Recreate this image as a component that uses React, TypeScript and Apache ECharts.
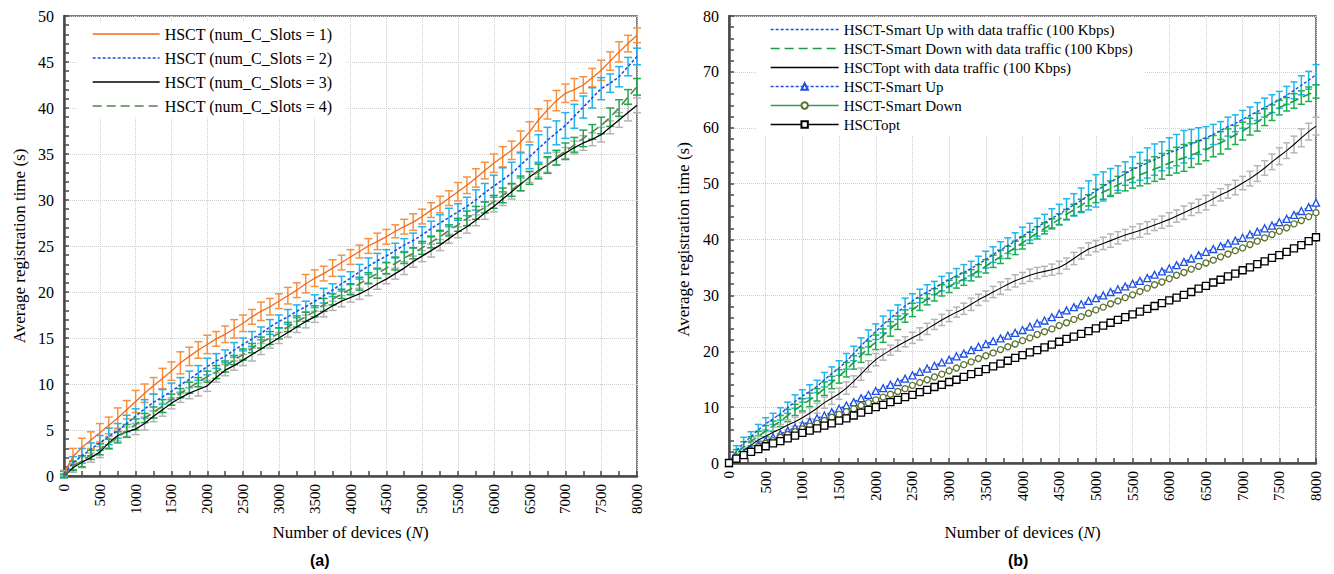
import React, { useEffect, useRef } from "react";
import * as echarts from "echarts";

// ---- sampling grids (number of devices N) ----
const leftStep = 125;
const rightStep = 100;
const leftDevices: number[] = Array.from({ length: 65 }, (_, i) => i * leftStep);
const rightDevices: number[] = Array.from({ length: 81 }, (_, i) => i * rightStep);

// ---- panel (a): HSCT with different numbers of contention slots ----
const slots1 = [
  0.3, 2.1, 3.1, 3.9, 4.7, 5.5, 6.3, 7.2,
  8.1, 9.0, 9.8, 10.6, 11.4, 12.3, 13.0, 13.7,
  14.3, 14.9, 15.4, 16.0, 16.6, 17.3, 17.9, 18.4,
  19.0, 19.6, 20.2, 20.9, 21.5, 22.0, 22.6, 23.2,
  23.8, 24.4, 25.0, 25.5, 26.0, 26.6, 27.1, 27.6,
  28.2, 28.9, 29.5, 30.2, 30.9, 31.6, 32.4, 33.2,
  34.0, 34.7, 35.4, 36.3, 37.4, 38.7, 39.8, 40.8,
  41.6, 42.0, 42.5, 43.3, 44.1, 45.1, 46.1, 47.0,
  47.9,
];
const slots2 = [
  0.2, 1.4, 2.2, 2.9, 3.6, 4.3, 4.9, 5.7,
  6.5, 7.3, 8.0, 8.6, 9.2, 9.9, 10.5, 11.2,
  11.9, 12.5, 13.0, 13.7, 14.3, 14.9, 15.5, 16.2,
  16.8, 17.3, 17.9, 18.4, 19.0, 19.6, 20.2, 20.9,
  21.5, 22.2, 22.8, 23.4, 23.9, 24.5, 25.1, 25.6,
  26.2, 26.9, 27.5, 28.1, 28.7, 29.3, 30.0, 30.8,
  31.5, 32.2, 32.9, 33.8, 34.7, 35.6, 36.5, 37.3,
  38.1, 39.1, 40.1, 41.1, 42.1, 42.7, 43.4, 44.5,
  45.6,
];
const slots3 = [
  0, 0.9, 1.5, 2.0, 2.6, 3.6, 4.4, 4.8,
  5.1, 5.7, 6.5, 7.2, 7.9, 8.5, 9.0, 9.4,
  9.8, 10.7, 11.5, 12.0, 12.6, 13.2, 13.8, 14.4,
  15.0, 15.6, 16.2, 16.8, 17.3, 17.9, 18.5, 19.0,
  19.4, 19.8, 20.3, 20.9, 21.4, 22.0, 22.6, 23.3,
  23.9, 24.5, 25.1, 25.8, 26.5, 27.1, 27.8, 28.6,
  29.3, 30.1, 30.9, 31.7, 32.5, 33.2, 33.8, 34.5,
  35.1, 35.7, 36.2, 36.6, 37.1, 37.9, 38.7, 39.5,
  40.3,
];
const slots4 = [
  0, 1.1, 1.6, 2.3, 2.9, 3.5, 4.2, 4.9,
  5.6, 6.3, 6.9, 7.6, 8.3, 9.0, 9.6, 10.2,
  10.8, 11.3, 11.9, 12.6, 13.2, 13.9, 14.5, 15.0,
  15.5, 16.2, 16.8, 17.3, 17.9, 18.6, 19.2, 19.8,
  20.3, 20.9, 21.5, 22.0, 22.6, 23.1, 23.7, 24.2,
  24.8, 25.4, 26.0, 26.7, 27.3, 28.0, 28.6, 29.2,
  29.8, 30.5, 31.1, 31.8, 32.4, 33.1, 33.8, 34.6,
  35.3, 36.0, 36.7, 37.4, 38.1, 39.0, 40.0, 41.2,
  42.3,
];
// half-length of the error bars (s)
const slots1Err = [
  0.3, 0.9, 1.0, 0.9, 1.0, 0.9, 1.1, 1.0,
  1.2, 1.0, 0.9, 1.1, 1.0, 1.2, 1.0, 0.9,
  1.0, 0.8, 0.9, 1.0, 0.9, 0.8, 1.0, 0.9,
  0.8, 0.9, 0.8, 1.0, 0.9, 0.8, 0.9, 0.8,
  0.8, 0.7, 0.8, 0.9, 0.8, 0.7, 0.8, 0.9,
  0.8, 0.8, 0.9, 0.8, 1.0, 0.9, 1.0, 0.9,
  1.0, 1.1, 1.0, 1.2, 1.1, 1.2, 1.0, 1.1,
  1.0, 1.2, 0.9, 1.0, 1.1, 1.0, 1.1, 0.9,
  0.8,
];
const slots2Err = [
  0.3, 0.7, 0.8, 0.7, 0.8, 0.9, 0.8, 0.9,
  0.8, 1.0, 0.9, 0.8, 0.9, 0.8, 0.9, 0.8,
  0.9, 0.8, 0.7, 0.8, 0.7, 0.8, 0.7, 0.8,
  0.7, 0.8, 0.7, 0.6, 0.7, 0.8, 0.7, 0.8,
  0.7, 0.8, 0.9, 0.8, 0.7, 0.8, 0.7, 0.8,
  0.9, 0.8, 0.9, 1.0, 0.9, 1.0, 1.1, 1.0,
  1.2, 1.3, 1.2, 1.4, 1.3, 1.5, 1.4, 1.3,
  1.4, 1.3, 1.2, 1.1, 1.2, 1.0, 1.1, 1.0,
  0.9,
];
const slots3Err = [
  0.2, 0.5, 0.6, 0.5, 0.6, 0.7, 0.6, 0.5,
  0.6, 0.7, 0.6, 0.7, 0.6, 0.5, 0.6, 0.7,
  0.6, 0.5, 0.6, 0.5, 0.6, 0.7, 0.6, 0.5,
  0.6, 0.5, 0.6, 0.7, 0.6, 0.6, 0.5, 0.6,
  0.5, 0.6, 0.7, 0.6, 0.5, 0.6, 0.7, 0.6,
  0.6, 0.7, 0.6, 0.5, 0.6, 0.7, 0.6, 0.7,
  0.6, 0.7, 0.8, 0.7, 0.6, 0.7, 0.8, 0.7,
  0.6, 0.7, 0.8, 0.7, 0.8, 0.7, 0.8, 0.9,
  0.8,
];
const slots4Err = [
  0.2, 0.5, 0.6, 0.5, 0.6, 0.5, 0.6, 0.7,
  0.6, 0.5, 0.6, 0.7, 0.6, 0.5, 0.6, 0.5,
  0.6, 0.7, 0.6, 0.5, 0.6, 0.5, 0.6, 0.7,
  0.6, 0.5, 0.6, 0.5, 0.6, 0.7, 0.6, 0.5,
  0.6, 0.7, 0.6, 0.5, 0.6, 0.7, 0.6, 0.6,
  0.7, 0.6, 0.7, 0.6, 0.7, 0.8, 0.7, 0.6,
  0.7, 0.8, 0.7, 0.8, 0.7, 0.8, 0.9, 0.8,
  0.9, 0.8, 0.9, 0.8, 0.9, 1.0, 0.9, 0.8,
  0.9,
];

// ---- panel (b): schemes with and without data traffic ----
const smartUpTraffic = [
  0, 2.2, 3.6, 4.7, 5.9, 7.0, 7.9, 8.8, 9.9, 11.0,
  12.0, 12.8, 13.7, 14.9, 16.0, 17.0, 18.2, 19.6, 21.0, 22.3,
  23.5, 24.8, 25.9, 27.0, 28.1, 29.0, 29.9, 30.6, 31.3, 32.1,
  32.8, 33.5, 34.1, 34.8, 35.6, 36.4, 37.3, 38.1, 38.9, 39.7,
  40.6, 41.4, 42.2, 43.0, 43.8, 44.5, 45.4, 46.2, 47.0, 47.9,
  48.7, 49.5, 50.3, 51.0, 51.8, 52.5, 53.1, 53.7, 54.3, 54.9,
  55.5, 56.0, 56.6, 57.1, 57.6, 58.2, 58.8, 59.5, 60.2, 60.8,
  61.5, 62.2, 62.9, 63.6, 64.3, 65.0, 65.8, 66.7, 67.6, 68.5,
  69.5,
];
const smartDownTraffic = [
  0, 1.6, 2.9, 3.9, 4.8, 5.7, 6.6, 7.5, 8.5, 9.5,
  10.4, 11.3, 12.2, 13.3, 14.4, 15.5, 16.7, 18.0, 19.3, 20.6,
  21.6, 22.8, 24.0, 25.1, 26.3, 27.4, 28.4, 29.3, 30.1, 30.9,
  31.6, 32.3, 32.9, 33.6, 34.4, 35.2, 36.1, 36.9, 37.7, 38.5,
  39.4, 40.3, 41.2, 42.0, 42.8, 43.6, 44.5, 45.3, 46.1, 47.0,
  47.8, 48.5, 49.1, 49.8, 50.4, 51.0, 51.6, 52.1, 52.6, 53.1,
  53.7, 54.2, 54.6, 55.1, 55.6, 56.1, 56.7, 57.3, 58.0, 58.7,
  59.4, 60.2, 61.0, 61.9, 62.7, 63.6, 64.2, 64.8, 65.4, 66.0,
  66.5,
];
const optTraffic = [
  0, 1.0, 2.2, 3.2, 4.1, 4.8, 5.5, 6.1, 6.8, 7.4,
  8.1, 8.9, 9.8, 10.8, 11.6, 12.4, 13.4, 14.6, 15.9, 17.3,
  18.5, 19.4, 20.2, 21.0, 21.7, 22.4, 23.1, 24.0, 24.8, 25.6,
  26.3, 27.0, 27.6, 28.4, 29.2, 29.9, 30.6, 31.3, 32.0, 32.6,
  33.1, 33.6, 34.0, 34.3, 34.6, 35.0, 35.7, 36.6, 37.5, 38.3,
  38.8, 39.3, 39.8, 40.3, 40.8, 41.2, 41.6, 42.1, 42.6, 43.1,
  43.6, 44.2, 44.8, 45.4, 46.0, 46.6, 47.3, 48.0, 48.6, 49.3,
  50.1, 50.9, 51.8, 52.8, 53.9, 54.9, 55.9, 57.0, 58.2, 59.3,
  60.3,
];
const smartUp = [
  0, 0.9, 1.7, 2.5, 3.3, 4.0, 4.6, 5.2, 5.8, 6.3,
  6.8, 7.4, 8.0, 8.5, 9.1, 9.7, 10.3, 10.9, 11.6, 12.2,
  12.9, 13.4, 14.0, 14.5, 15.1, 15.7, 16.3, 16.9, 17.4, 18.0,
  18.5, 19.1, 19.6, 20.2, 20.8, 21.3, 21.8, 22.3, 22.8, 23.3,
  23.8, 24.4, 25.0, 25.5, 26.1, 26.7, 27.3, 27.9, 28.4, 29.0,
  29.5, 30.0, 30.6, 31.1, 31.6, 32.1, 32.6, 33.1, 33.7, 34.3,
  34.8, 35.4, 36.0, 36.6, 37.2, 37.8, 38.3, 38.8, 39.3, 39.8,
  40.3, 40.9, 41.4, 42.0, 42.5, 43.1, 43.7, 44.4, 45.1, 45.8,
  46.6,
];
const smartDown = [
  0, 0.8, 1.5, 2.2, 2.9, 3.5, 4.0, 4.6, 5.1, 5.6,
  6.1, 6.6, 7.1, 7.6, 8.2, 8.7, 9.2, 9.7, 10.3, 10.8,
  11.3, 11.8, 12.3, 12.8, 13.3, 13.9, 14.4, 14.9, 15.4, 15.9,
  16.5, 17.0, 17.6, 18.1, 18.7, 19.2, 19.7, 20.3, 20.8, 21.3,
  21.9, 22.4, 23.0, 23.5, 24.0, 24.6, 25.1, 25.7, 26.2, 26.8,
  27.4, 27.9, 28.5, 29.0, 29.6, 30.1, 30.7, 31.3, 31.9, 32.4,
  33.0, 33.6, 34.1, 34.7, 35.2, 35.8, 36.3, 36.9, 37.4, 38.0,
  38.5, 39.1, 39.7, 40.3, 40.9, 41.5, 42.1, 42.8, 43.4, 44.1,
  44.8,
];
const opt = [
  0, 0.8, 1.4, 2.0, 2.5, 3.0, 3.5, 3.9, 4.4, 4.9,
  5.4, 5.8, 6.2, 6.7, 7.1, 7.6, 8.0, 8.5, 9.0, 9.5,
  10.0, 10.4, 10.9, 11.3, 11.8, 12.2, 12.7, 13.1, 13.6, 14.0,
  14.5, 14.9, 15.4, 15.9, 16.3, 16.8, 17.3, 17.8, 18.3, 18.8,
  19.3, 19.8, 20.2, 20.7, 21.2, 21.7, 22.2, 22.6, 23.1, 23.6,
  24.1, 24.6, 25.1, 25.6, 26.1, 26.6, 27.1, 27.6, 28.1, 28.6,
  29.1, 29.6, 30.1, 30.6, 31.2, 31.7, 32.3, 32.8, 33.4, 33.9,
  34.5, 35.0, 35.6, 36.1, 36.7, 37.2, 37.8, 38.4, 39.0, 39.7,
  40.4,
];
const smartUpTrafficErr = [
  0.4, 0.9, 1.0, 0.9, 1.0, 1.1, 1.0, 1.1, 1.0, 1.2,
  1.1, 1.2, 1.1, 1.3, 1.2, 1.3, 1.4, 1.3, 1.4, 1.5,
  1.4, 1.5, 1.4, 1.3, 1.4, 1.3, 1.2, 1.3, 1.2, 1.3,
  1.2, 1.3, 1.4, 1.3, 1.4, 1.5, 1.4, 1.5, 1.4, 1.5,
  1.6, 1.5, 1.6, 1.5, 1.7, 1.8, 1.9, 2.0, 2.2, 2.6,
  2.9, 2.6, 2.4, 2.2, 2.1, 2.3, 2.5, 2.7, 2.8, 2.6,
  2.7, 2.8, 2.9, 2.6, 2.4, 2.0, 1.8, 1.6, 1.7, 1.5,
  1.6, 1.5, 1.6, 1.7, 1.6, 1.5, 1.6, 1.5, 1.7, 1.6,
  1.8,
];
const smartDownTrafficErr = [
  0.3, 0.8, 0.9, 0.8, 0.9, 1.0, 0.9, 1.0, 1.1, 1.0,
  1.1, 1.2, 1.1, 1.2, 1.1, 1.2, 1.3, 1.2, 1.3, 1.2,
  1.3, 1.2, 1.3, 1.2, 1.1, 1.2, 1.1, 1.0, 1.1, 1.0,
  1.1, 1.0, 1.1, 1.0, 1.1, 1.2, 1.1, 1.2, 1.1, 1.2,
  1.1, 1.0, 1.1, 1.0, 0.9, 1.0, 0.9, 1.0, 1.1, 1.0,
  1.2, 1.3, 1.4, 1.5, 1.7, 1.8, 2.0, 2.1, 2.2, 2.3,
  2.2, 2.3, 2.4, 2.2, 2.1, 2.0, 1.9, 2.0, 1.8, 1.7,
  1.6, 1.5, 1.6, 1.5, 1.4, 1.3, 1.2, 1.3, 1.2, 1.3,
  1.2,
];
const optTrafficErr = [
  0.3, 0.6, 0.7, 0.8, 0.7, 0.8, 0.9, 0.8, 0.9, 0.8,
  0.9, 1.0, 0.9, 1.0, 1.1, 1.0, 1.1, 1.0, 1.1, 1.0,
  1.1, 1.0, 0.9, 1.0, 0.9, 1.0, 1.1, 1.0, 0.9, 1.0,
  1.0, 0.9, 1.0, 1.1, 1.0, 0.9, 1.0, 1.1, 1.0, 1.1,
  1.0, 1.1, 1.0, 0.9, 1.0, 1.1, 1.0, 1.1, 1.0, 1.1,
  1.0, 1.1, 1.2, 1.1, 1.0, 1.1, 1.2, 1.1, 1.0, 1.1,
  1.2, 1.1, 1.2, 1.1, 1.2, 1.3, 1.2, 1.1, 1.2, 1.3,
  1.2, 1.3, 1.4, 1.3, 1.4, 1.5, 1.4, 1.5, 1.6, 1.5,
  1.6,
];

const leftNames = [
  "HSCT (num_C_Slots = 1)",
  "HSCT (num_C_Slots = 2)",
  "HSCT (num_C_Slots = 3)",
  "HSCT (num_C_Slots = 4)",
];
const rightNames = [
  "HSCT-Smart Up with data traffic (100 Kbps)",
  "HSCT-Smart Down with data traffic (100 Kbps)",
  "HSCTopt with data traffic (100 Kbps)",
  "HSCT-Smart Up",
  "HSCT-Smart Down",
  "HSCTopt",
];

const SERIF = "'Liberation Serif', 'Times New Roman', serif";
const AXIS_DARK = "#4a4a4a";

const pairs = (xs: number[], ys: number[]) => xs.map((x, i) => [x, ys[i]]);
const ranges = (xs: number[], ys: number[], es: number[]) =>
  xs.map((x, i) => [x, ys[i] - es[i], ys[i] + es[i]]);

function errorBars(xs: number[], ys: number[], es: number[], color: string, panel: number, cap: number) {
  return {
    type: "custom",
    name: "err",
    xAxisIndex: panel,
    yAxisIndex: panel,
    silent: true,
    z: 2,
    data: ranges(xs, ys, es),
    encode: { x: 0, y: [1, 2] },
    renderItem: (_params: any, api: any) => {
      const x = api.value(0);
      const lo = api.coord([x, api.value(1)]);
      const hi = api.coord([x, api.value(2)]);
      const style = { stroke: color, lineWidth: 1.5 };
      return {
        type: "group",
        children: [
          { type: "line", shape: { x1: lo[0], y1: lo[1], x2: hi[0], y2: hi[1] }, style },
          { type: "line", shape: { x1: lo[0] - cap, y1: lo[1], x2: lo[0] + cap, y2: lo[1] }, style },
          { type: "line", shape: { x1: hi[0] - cap, y1: hi[1], x2: hi[0] + cap, y2: hi[1] }, style },
        ],
      };
    },
  };
}

// plain line without markers; the transparent item colour keeps the legend icon a bare line
function line(name: string, xs: number[], ys: number[], panel: number, color: string, width: number, dash: any) {
  return {
    type: "line",
    name,
    xAxisIndex: panel,
    yAxisIndex: panel,
    data: pairs(xs, ys),
    symbol: "none",
    z: 4,
    itemStyle: { color: "rgba(0,0,0,0)", borderWidth: 0 },
    lineStyle: { color, width, type: dash },
  };
}

function marked(name: string, xs: number[], ys: number[], panel: number, color: string, mark: string, markColor: string, size: number, dash: any) {
  return {
    type: "line",
    name,
    xAxisIndex: panel,
    yAxisIndex: panel,
    data: pairs(xs, ys),
    symbol: mark,
    symbolSize: size,
    showSymbol: true,
    showAllSymbol: true,
    z: 5,
    itemStyle: { color: "#ffffff", borderColor: markColor, borderWidth: 1.3 },
    lineStyle: { color, width: 1.4, type: dash },
  };
}

function xAxis(gridIndex: number, nameGap: number) {
  return {
    type: "value",
    gridIndex,
    min: 0,
    max: 8000,
    interval: 500,
    name: "Number of devices ({i|N})",
    nameLocation: "middle",
    nameGap,
    nameTextStyle: {
      fontFamily: SERIF,
      fontSize: 17,
      color: "#000",
      rich: { i: { fontFamily: SERIF, fontSize: 17, fontStyle: "italic", color: "#000" } },
    },
    axisLine: { show: true, onZero: false, lineStyle: { color: AXIS_DARK, width: 2.5 } },
    axisTick: { show: true, inside: true, length: 5, lineStyle: { color: AXIS_DARK, width: 1.5 } },
    minorTick: { show: true, splitNumber: 2, length: 5, lineStyle: { color: AXIS_DARK, width: 1.5 } },
    axisLabel: {
      rotate: 90,
      margin: 8,
      fontFamily: SERIF,
      fontSize: 15,
      color: "#000",
      formatter: (v: number) => String(v),
    },
    splitLine: { show: true, lineStyle: { color: "#cfcfcf", type: "dotted", width: 1 } },
  };
}

function yAxis(gridIndex: number, max: number, interval: number, nameGap: number) {
  return {
    type: "value",
    gridIndex,
    min: 0,
    max,
    interval,
    name: "Average registration time (s)",
    nameLocation: "middle",
    nameGap,
    nameTextStyle: { fontFamily: SERIF, fontSize: 17, color: "#000" },
    axisLine: { show: true, onZero: false, lineStyle: { color: AXIS_DARK, width: 2.5 } },
    axisTick: { show: true, inside: true, length: 5, lineStyle: { color: AXIS_DARK, width: 1.5 } },
    minorTick: { show: true, splitNumber: 5, length: 5, lineStyle: { color: AXIS_DARK, width: 1.5 } },
    axisLabel: { margin: 10, fontFamily: SERIF, fontSize: 16, color: "#000" },
    splitLine: { show: true, lineStyle: { color: "#cfcfcf", type: "dotted", width: 1 } },
  };
}

export default function App() {
  const ref = useRef<HTMLDivElement>(null);

  useEffect(() => {
    if (!ref.current) return;
    const chart = echarts.init(ref.current, undefined, { renderer: "svg" });

    const blueDash = [3, 2];
    const greenDash = [9, 5];

    chart.setOption({
      animation: false,
      backgroundColor: "#ffffff",
      grid: [
        { left: 64, top: 16, width: 573, height: 460, show: true, borderColor: "#555", borderWidth: 1.5, backgroundColor: "transparent" },
        { left: 729, top: 16, width: 587, height: 447, show: true, borderColor: "#555", borderWidth: 1.5, backgroundColor: "transparent" },
      ],
      xAxis: [xAxis(0, 48), xAxis(1, 61)],
      yAxis: [yAxis(0, 50, 5, 36), yAxis(1, 80, 10, 37)],
      legend: [
        {
          data: leftNames,
          orient: "vertical",
          left: 78,
          top: 22,
          padding: [4, 14, 4, 14],
          backgroundColor: "#ffffff",
          itemWidth: 67,
          itemHeight: 14,
          itemGap: 8,
          selectedMode: false,
          lineStyle: { width: 1.3 },
          textStyle: { fontFamily: SERIF, fontSize: 16, color: "#000" },
        },
        {
          data: rightNames,
          orient: "vertical",
          left: 756,
          top: 18,
          padding: [4, 12, 4, 14],
          backgroundColor: "#ffffff",
          itemWidth: 68,
          itemHeight: 8,
          itemGap: 4,
          selectedMode: false,
          lineStyle: { width: 1.3 },
          textStyle: { fontFamily: SERIF, fontSize: 15, color: "#000" },
        },
      ],
      graphic: [
        { type: "text", left: 310, top: 552, style: { text: "(a)", font: "bold 16px 'Liberation Sans', Arial, sans-serif", fill: "#000" } },
        { type: "text", left: 1008, top: 552, style: { text: "(b)", font: "bold 16px 'Liberation Sans', Arial, sans-serif", fill: "#000" } },
      ],
      series: [
        // panel (a) error bars
        errorBars(leftDevices, slots1, slots1Err, "#f7913f", 0, 4),
        errorBars(leftDevices, slots2, slots2Err, "#22b3ec", 0, 4),
        errorBars(leftDevices, slots3, slots3Err, "#b4b4b4", 0, 4),
        errorBars(leftDevices, slots4, slots4Err, "#1fa94e", 0, 4),
        // panel (a) lines
        line(leftNames[0], leftDevices, slots1, 0, "#f26a1b", 1.3, "solid"),
        line(leftNames[1], leftDevices, slots2, 0, "#1d4fe6", 1.6, blueDash),
        line(leftNames[2], leftDevices, slots3, 0, "#000000", 1.3, "solid"),
        line(leftNames[3], leftDevices, slots4, 0, "#5b7f52", 1.6, greenDash),
        // panel (b) error bars
        errorBars(rightDevices, smartUpTraffic, smartUpTrafficErr, "#1fb5ee", 1, 3.5),
        errorBars(rightDevices, smartDownTraffic, smartDownTrafficErr, "#1fae4f", 1, 3.5),
        errorBars(rightDevices, optTraffic, optTrafficErr, "#b6b6b6", 1, 3.5),
        // panel (b) lines
        line(rightNames[0], rightDevices, smartUpTraffic, 1, "#1d4fe6", 1.4, blueDash),
        line(rightNames[1], rightDevices, smartDownTraffic, 1, "#1b9b45", 1.6, greenDash),
        line(rightNames[2], rightDevices, optTraffic, 1, "#000000", 1.1, "solid"),
        marked(rightNames[3], rightDevices, smartUp, 1, "#1d4fe6", "triangle", "#1d4fe6", 7, blueDash),
        marked(rightNames[4], rightDevices, smartDown, 1, "#2f9e4f", "circle", "#5e6f2c", 6, "solid"),
        marked(rightNames[5], rightDevices, opt, 1, "#000000", "rect", "#000000", 7, "solid"),
      ],
    });

    return () => chart.dispose();
  }, []);

  return (
    <div
      ref={ref}
      style={{ position: "absolute", left: 0, top: 0, width: 1334, height: 574, background: "#fff" }}
    />
  );
}
